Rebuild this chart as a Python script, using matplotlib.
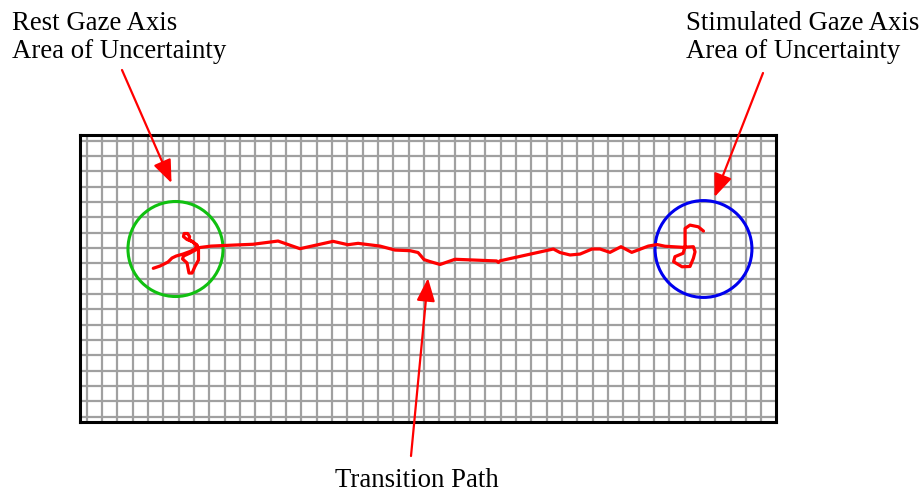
import numpy as np
import matplotlib
matplotlib.use("Agg")
import matplotlib.pyplot as plt
from matplotlib.patches import Circle

# ---- data (grid units; one grid square = 1 unit) ----
path_x = [4.34, 4.78, 5.30, 5.56, 5.83, 6.28, 6.74, 7.06, 7.19, 6.87, 6.54, 6.31, 6.35,
          6.58, 6.71, 6.67, 6.93, 7.19, 7.29, 7.29, 7.06, 6.87, 6.67, 6.54, 6.25, 6.31,
          6.74, 7.39, 8.11, 9.67, 10.85, 12.48, 13.91, 16.07, 17.04, 17.70, 19.13, 20.11,
          21.09, 21.61, 21.81, 22.00, 22.39, 23.05, 24.02, 26.74, 26.85, 26.96, 30.44,
          30.87, 31.53, 32.18, 32.96, 33.48, 34.13, 34.85, 35.55, 36.63, 37.20, 37.72,
          38.90, 39.57, 39.68, 39.57, 39.35, 38.83, 38.28, 38.37, 38.90, 39.03, 39.03,
          39.03, 39.35, 39.89, 40.23]
path_y = [9.68, 9.83, 10.09, 10.35, 10.48, 10.61, 10.78, 10.94, 11.20, 11.43, 11.56, 11.75,
          11.95, 11.95, 11.75, 11.56, 11.40, 11.17, 10.87, 10.22, 9.80, 9.37, 9.37, 10.03,
          10.29, 10.48, 10.68, 11.04, 11.13, 11.20, 11.25, 11.46, 10.96, 11.44, 11.22,
          11.31, 11.13, 10.87, 10.83, 10.71, 10.48, 10.25, 10.12, 9.93, 10.27, 10.16,
          10.06, 10.17, 10.94, 10.71, 10.55, 10.61, 10.94, 10.94, 10.72, 11.09, 10.72,
          11.13, 11.23, 11.12, 11.05, 11.09, 10.76, 10.33, 9.80, 9.78, 10.11, 10.44,
          10.66, 11.09, 11.64, 12.28, 12.50, 12.39, 12.11]

rest_center = (5.79, 10.94)
rest_radius = 3.10
stim_center = (40.23, 10.94)
stim_radius = 3.16

grid_x = list(range(0, 45))
grid_y = list(range(0, 19))
x_limits = (-0.42, 44.96)
y_limits = (-0.35, 18.38)

label_rest = ["Rest Gaze Axis", "Area of Uncertainty"]
label_stim = ["Stimulated Gaze Axis", "Area of Uncertainty"]
label_path = "Transition Path"

# arrow tips (data) and tails (figure pixels, origin bottom-left)
arrow_tips = [(5.53, 15.24), (40.95, 14.33), (22.26, 9.04)]
arrow_tails = [(122, 423), (763, 420), (411, 37)]

# ---- figure ----
W, H = 923, 493
plt.rcParams['font.family'] = ['Liberation Serif', 'DejaVu Serif']
fig = plt.figure(figsize=(W / 100, H / 100), dpi=100)
fig.patch.set_facecolor('white')

ax = fig.add_axes([80.3 / W, 71 / H, 695.7 / W, 287 / H])
ax.set_xlim(*x_limits)
ax.set_ylim(*y_limits)
ax.set_xticks(grid_x)
ax.set_yticks(grid_y)
ax.tick_params(length=0, labelbottom=False, labelleft=False)
ax.grid(True, color='#a0a0a0', linewidth=1.6, zorder=0)
ax.set_axisbelow(True)
for s in ax.spines.values():
    s.set_linewidth(2.2)
    s.set_color('black')

ax.add_patch(Circle(rest_center, rest_radius, fill=False, edgecolor='#10c010',
                    linewidth=2.2, zorder=3))
ax.add_patch(Circle(stim_center, stim_radius, fill=False, edgecolor='#0000ee',
                    linewidth=2.2, zorder=3))
ax.plot(path_x, path_y, color='#ff0000', linewidth=2.3, zorder=4,
        solid_joinstyle='round', solid_capstyle='round')

for tip, tail in zip(arrow_tips, arrow_tails):
    ax.annotate('', xy=tip, xycoords='data', xytext=tail, textcoords='figure pixels',
                annotation_clip=False,
                arrowprops=dict(arrowstyle='-|>,head_length=0.7,head_width=0.28',
                                mutation_scale=20, color='#ff0000', lw=1.6,
                                shrinkA=0, shrinkB=0), zorder=5)

fs = 19.3
fig.text(12 / W, 1 - 30 / H, label_rest[0], fontsize=fs, va='baseline', ha='left')
fig.text(12 / W, 1 - 58 / H, label_rest[1], fontsize=fs, va='baseline', ha='left')
fig.text(686 / W, 1 - 30 / H, label_stim[0], fontsize=fs, va='baseline', ha='left')
fig.text(686 / W, 1 - 58 / H, label_stim[1], fontsize=fs, va='baseline', ha='left')
fig.text(335 / W, 1 - 487 / H, label_path, fontsize=fs, va='baseline', ha='left')

fig.savefig('out.png', dpi=100, facecolor='white')
